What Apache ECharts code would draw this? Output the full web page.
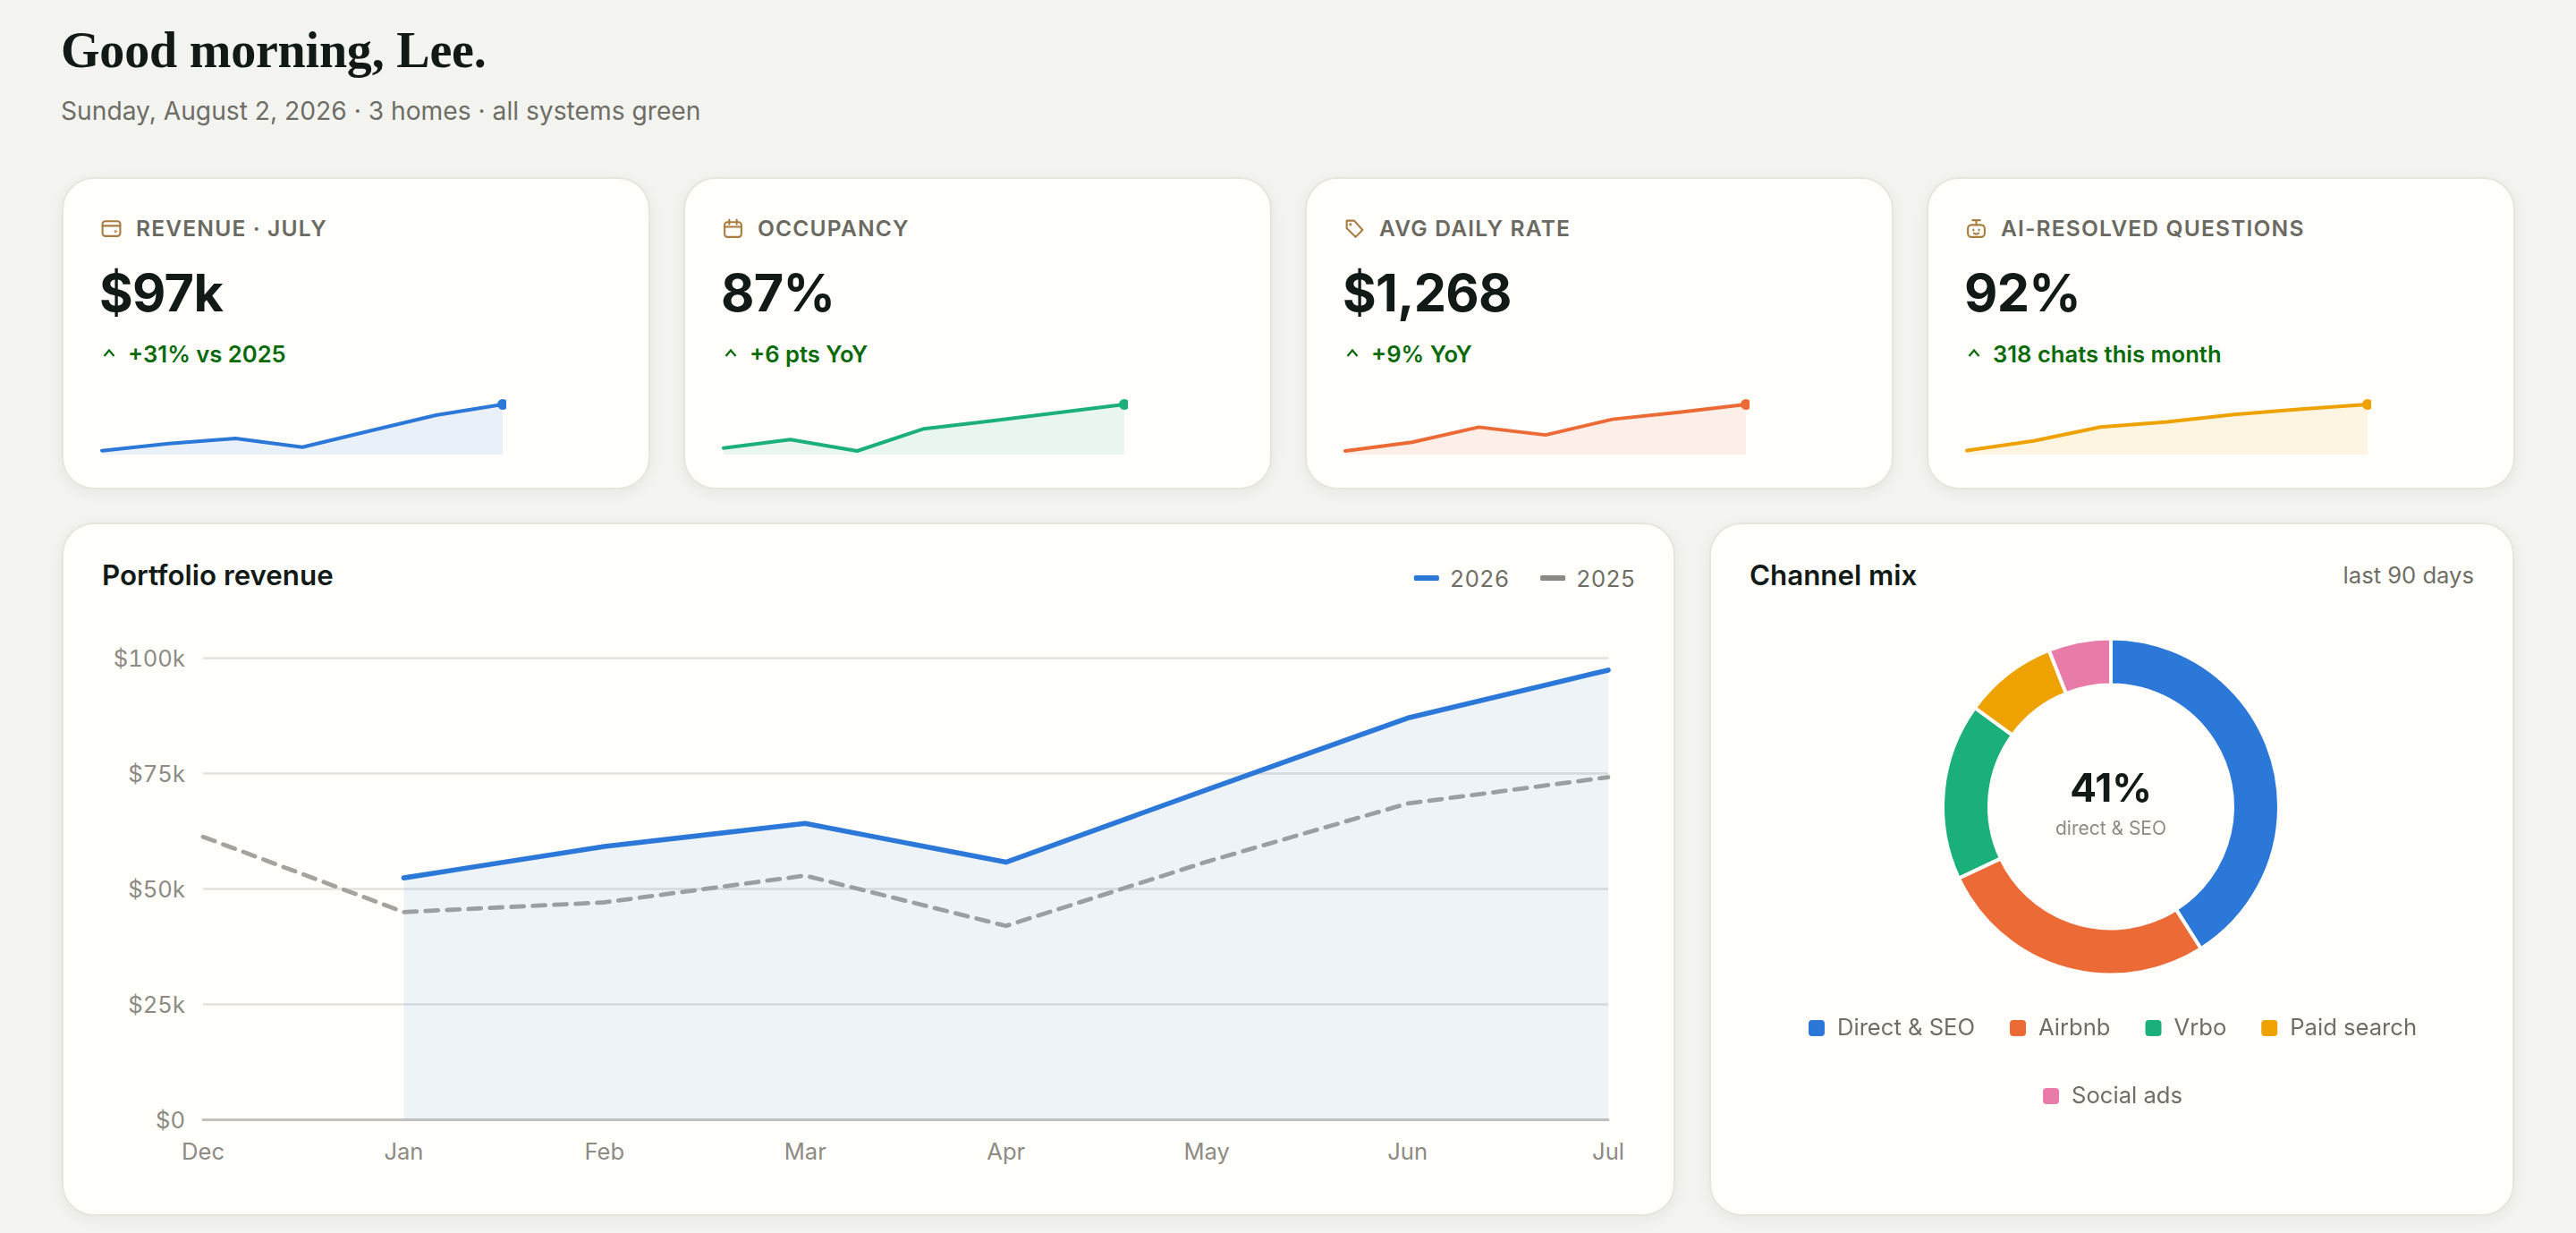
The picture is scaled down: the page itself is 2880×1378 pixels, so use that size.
<!DOCTYPE html>
<html><head><meta charset="utf-8">
<script src="https://cdn.jsdelivr.net/npm/echarts@6/dist/echarts.min.js"></script>
<style>
html,body{margin:0;padding:0;background:#f3f4f0;width:2880px;height:1378px;overflow:hidden;font-family:Inter,sans-serif;}
.abs{position:absolute;white-space:nowrap;}
.card{position:absolute;background:#fffefb;border:2px solid #e6e6df;box-sizing:border-box;border-radius:36px;box-shadow:0 4px 16px rgba(30,30,20,.06);}
.h1{left:68px;top:20px;font:700 56px/72px "Liberation Serif",serif;color:#111a17;letter-spacing:-.2px;}
.sub{left:68px;top:105px;font:400 28.2px/38px Inter,sans-serif;color:#6f6e66;}
.lab{font:600 24.6px/30px Inter,sans-serif;color:#6b6a62;letter-spacing:1.15px;}
.val{font:700 57.6px/72px Inter,sans-serif;color:#111a17;letter-spacing:-.7px;}
.del{font:600 25.6px/32px Inter,sans-serif;color:#0a6a0a;}
.ttl{font:600 31.3px/40px Inter,sans-serif;color:#111a17;}
.note{font:400 25.6px/36px Inter,sans-serif;color:#6f6e66;}
svg{position:absolute;}
#main text{font-variant-numeric:tabular-nums;}
</style></head><body>
<div id="root"></div>
<script>
// Data
const months = ['Dec','Jan','Feb','Mar','Apr','May','Jun','Jul'];
const revenue2026 = [null,52.3,59.1,64.1,55.7,71.4,86.9,97.3];
const revenue2025 = [61.2,44.9,47.0,52.8,41.9,55.8,68.4,74.1];
const yTicks = ['$0','$25k','$50k','$75k','$100k'];
const sparkMonths = ['Jan','Feb','Mar','Apr','May','Jun','Jul'];
const sparkRevenue = [52.3,59.1,64.1,55.7,71.4,86.9,97.3];
const sparkOccupancy = [74.8,77.2,74.0,80.2,82.4,84.7,87.0];
const sparkRate = [1102,1133,1187,1159,1215,1240,1268];
const sparkResolved = [79.1,81.8,85.7,87.1,89.2,90.7,92.0];
const channelNames = ['Direct & SEO','Airbnb','Vrbo','Paid search','Social ads'];
const channelValues = [41,27,17,9,6];
const channelColors = ['#2b78d8','#ec6a36','#1bb07a','#eea200','#e87ba8'];

const kpiLabels = ['REVENUE · JULY','OCCUPANCY','AVG DAILY RATE','AI-RESOLVED QUESTIONS'];
const kpiValues = ['$97k','87%','$1,268','92%'];
const kpiDeltas = ['+31% vs 2025','+6 pts YoY','+9% YoY','318 chats this month'];
const kpiColors = ['#2b78d8','#1bb07a','#ec6a36','#eea200'];
const kpiSeries = [sparkRevenue,sparkOccupancy,sparkRate,sparkResolved];
const kpiRanges = [[48.5,100.8],[73,88],[1089,1281],[78,93]];
const cardLefts = [70,765,1460,2155];

const icons = [
 '<rect x="2.5" y="4" width="19" height="16" rx="3"/><path d="M2.5 9h19"/><circle cx="16.5" cy="15" r=".5"/>',
 '<rect x="3" y="5" width="18" height="16" rx="3"/><path d="M3 10h18M8 2.5v5M16 2.5v5"/>',
 '<path d="M3.5 3.5h8l9 10-7.5 7.5-9.5-9.5z"/><circle cx="7.5" cy="7.5" r=".6"/>',
 '<rect x="3" y="8" width="18" height="13" rx="4"/><path d="M12 3v5M8 3h8M9 13v1M15 13v1M9.5 17c1.5 1 3.5 1 5 0"/>'
];

const root = document.getElementById('root');
let html = '<div class="abs h1">Good morning, Lee.</div><div class="abs sub">Sunday, August 2, 2026 · 3 homes · all systems green</div>';
cardLefts.forEach((x,i)=>{
  html += `<div class="card" style="left:${x-1}px;top:198px;width:658px;height:349px"></div>`;
  html += `<svg style="left:${x+42}px;top:243px" width="25" height="25" viewBox="0 0 24 24" fill="none" stroke="#a87c3f" stroke-width="2" stroke-linecap="round" stroke-linejoin="round">${icons[i]}</svg>`;
  html += `<div class="abs lab" style="left:${x+82}px;top:240px">${kpiLabels[i]}</div>`;
  html += `<div class="abs val" style="left:${x+41}px;top:291px">${kpiValues[i]}</div>`;
  html += `<svg style="left:${x+44}px;top:388px" width="16" height="14" viewBox="0 0 16 14" fill="none" stroke="#0a6a0a" stroke-width="2.2"><path d="M2.5 10 8 3.5l5.5 6.5"/></svg>`;
  html += `<div class="abs del" style="left:${x+73}px;top:380px">${kpiDeltas[i]}</div>`;
  html += `<div id="spark${i}" class="abs" style="left:${x+36}px;top:440px;width:460px;height:76px"></div>`;
});
html += '<div class="card" style="left:69px;top:584px;width:1804px;height:775px"></div>';
html += '<div class="card" style="left:1911px;top:584px;width:900px;height:775px"></div>';
html += '<div class="abs ttl" style="left:114px;top:623px">Portfolio revenue</div>';
html += '<div class="abs ttl" style="left:1956px;top:623px">Channel mix</div>';
html += '<div class="abs note" style="right:114px;top:625px">last 90 days</div>';
html += '<div id="main" class="abs" style="left:70px;top:586px;width:1802px;height:772px"></div>';
html += '<div id="donut" class="abs" style="left:1912px;top:586px;width:898px;height:772px"></div>';
root.innerHTML = html;

kpiSeries.forEach((data,i)=>{
  const c = echarts.init(document.getElementById('spark'+i));
  c.setOption({
    animation:false,
    grid:{left:8,right:4,top:8,bottom:8},
    xAxis:{type:'category',data:sparkMonths,boundaryGap:false,show:false},
    yAxis:{type:'value',min:kpiRanges[i][0],max:kpiRanges[i][1],show:false},
    series:[{type:'line',data,clip:false,showAllSymbol:true,
      symbol:(v,p)=>p.dataIndex===data.length-1?'circle':'none',symbolSize:12,
      itemStyle:{color:kpiColors[i]},
      lineStyle:{color:kpiColors[i],width:4,cap:'round',join:'round'},
      areaStyle:{color:kpiColors[i],opacity:.1}}]
  });
});

const tickFont = {fontFamily:'Inter',fontSize:25.6,color:'#8d8b84'};
const main = echarts.init(document.getElementById('main'),null,{renderer:'svg'});
main.setOption({
  animation:false,
  grid:{left:157,right:74,top:149,height:516},
  legend:{right:42,top:42,itemWidth:28,itemHeight:6,itemGap:38,icon:'roundRect',
    textStyle:{fontFamily:'Inter',fontSize:25.6,color:'#6f6e66',padding:[0,0,0,7]},
    data:['2026','2025']},
  xAxis:{type:'category',data:months,boundaryGap:false,
    axisTick:{show:false},axisLine:{show:true,lineStyle:{color:'#c2c2bc',width:3}},
    axisLabel:Object.assign({margin:22,hideOverlap:false,interval:0},tickFont)},
  yAxis:{type:'value',min:0,max:100,interval:25,
    axisLine:{show:false},axisTick:{show:false},
    axisLabel:Object.assign({margin:20,formatter:v=>yTicks[v/25]},tickFont),
    splitLine:{lineStyle:{color:'#e3e2dd',width:2.5}}},
  series:[
    {name:'2026',type:'line',data:revenue2026,showSymbol:false,clip:false,
      itemStyle:{color:'#2b78d8'},
      lineStyle:{color:'#2b78d8',width:5.6,cap:'round',join:'round'},
      areaStyle:{color:'#2b78d8',opacity:.08},z:3},
    {name:'2025',type:'line',data:revenue2025,showSymbol:false,clip:false,
      itemStyle:{color:'#8c8a84'},
      lineStyle:{color:'#a5a39d',width:4.8,type:[14,10],cap:'round',join:'round'},z:2}
  ]
});

const donut = echarts.init(document.getElementById('donut'));
const legendText = {fontFamily:'Inter',fontSize:25.6,color:'#6f6e66',padding:[0,0,0,8]};
donut.setOption({
  animation:false,
  color:channelColors,
  legend:[
    {data:channelNames.slice(0,4),left:'center',top:545,icon:'roundRect',itemWidth:20,itemHeight:20,itemGap:37,textStyle:legendText},
    {data:channelNames.slice(4),left:'center',top:621,icon:'roundRect',itemWidth:20,itemHeight:20,itemGap:37,textStyle:legendText}
  ],
  graphic:[
    {type:'text',x:448,y:297,style:{text:'41%',font:'700 44px Inter',fill:'#111a17',textAlign:'center',textVerticalAlign:'middle'}},
    {type:'text',x:448,y:341,style:{text:'direct & SEO',font:'400 21px Inter',fill:'#8d8b84',textAlign:'center',textVerticalAlign:'middle'}}
  ],
  series:[{type:'pie',radius:[136,188],center:[448,315.5],startAngle:90,clockwise:true,
    label:{show:false},labelLine:{show:false},silent:true,
    itemStyle:{borderColor:'#fffefb',borderWidth:4},
    data:channelNames.map((name,i)=>({name,value:channelValues[i]}))}]
});
</script>
</body></html>
